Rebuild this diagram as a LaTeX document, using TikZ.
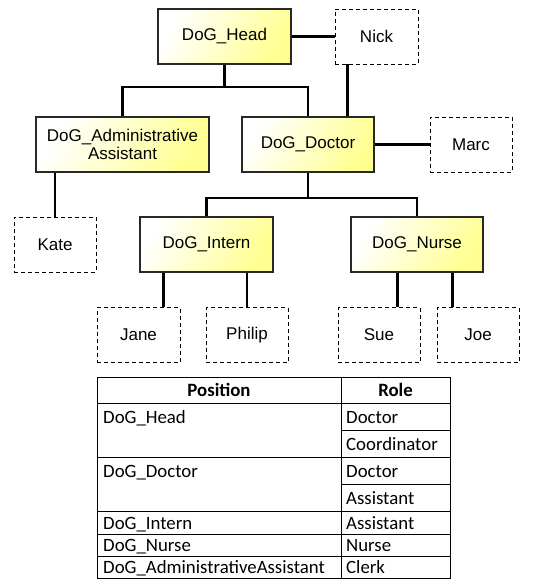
\documentclass[tikz,border=0pt]{standalone}
\usepackage{fontspec}
\setmainfont{Liberation Sans}
\newfontfamily\tabfont{Carlito}
\definecolor{ylw}{RGB}{255,255,145}
\definecolor{bord}{RGB}{40,40,40}
\begin{document}
\begin{tikzpicture}[x=1pt,y=-1pt,
  posbox/.style={draw=bord,line width=1.1pt,left color=white,right color=ylw,shading angle=60,minimum height=55pt,inner sep=0pt,align=center,font=\fontsize{17}{17.5}\selectfont},
  person/.style={draw=black,line width=0.9pt,dash pattern=on 4pt off 3pt,fill=white,minimum width=83pt,minimum height=55pt,inner sep=0pt,font=\fontsize{17}{17.5}\selectfont},
  link/.style={line width=2.6pt,black},
  tline/.style={line width=0.9pt,black},
  ttext/.style={inner sep=0pt,anchor=base west,font=\tabfont\fontsize{18.8}{20}\selectfont},
  thead/.style={inner sep=0pt,anchor=base,font=\tabfont\bfseries\fontsize{18.8}{20}\selectfont}]
\useasboundingbox (0,0) rectangle (542,585);
% boxes
\node[posbox,minimum width=133pt] (head) at (224.5,36.5) {DoG\_Head};
\node[person] (nick) at (376.5,36.5) {Nick};
\node[posbox,minimum width=173pt] (admin) at (122.5,144.5) {DoG\_Administrative\\Assistant};
\node[posbox,minimum width=132pt] (doctor) at (308,144.5) {DoG\_Doctor};
\node[person,minimum width=82pt] (marc) at (471,144.5) {Marc};
\node[person,minimum width=82pt] (kate) at (55,244.5) {Kate};
\node[posbox,minimum width=133pt] (intern) at (206.5,244.5) {DoG\_Intern};
\node[posbox,minimum width=132pt] (nurse) at (417,244.5) {DoG\_Nurse};
\node[person] (jane) at (138.5,335) {Jane};
\node[person,minimum width=82pt] (philip) at (247,335) {Philip};
\node[person,minimum width=82pt] (sue) at (379,335) {Sue};
\node[person,minimum width=82pt] (joe) at (478,335) {Joe};
% connectors
\coordinate (bus1) at (224.5,87);
\coordinate (bus2) at (308,198);
\draw[link] (head.east) -- (nick.west);
\draw[link] (head.south) -- (bus1);
\draw[link] (admin.north) |- (bus1) -| (doctor.north);
\draw[link] ([xshift=13pt]nick.south west) -- ([xshift=13pt]nick.south west |- doctor.north);
\draw[link] (doctor.east) -- (marc.west);
\draw[link] (doctor.south) -- (bus2);
\draw[link] (intern.north) |- (bus2) -| (nurse.north);
\draw[link] (kate.north) -- (kate.north |- admin.south);
\draw[link] ([xshift=-17pt]jane.north east) -- ([xshift=-17pt]jane.north east |- intern.south);
\draw[link] (philip.north) -- (philip.north |- intern.south);
\draw[link] ([xshift=-23pt]sue.north east) -- ([xshift=-23pt]sue.north east |- nurse.south);
\draw[link] ([xshift=16pt]joe.north west) -- ([xshift=16pt]joe.north west |- nurse.south);
% table
\draw[tline] (97,377) rectangle (450,578);
\draw[tline] (341,377) -- (341,578);
\foreach \yy in {403.5,457,511,534,556} \draw[tline] (97,\yy) -- (450,\yy);
\foreach \yy in {430,484} \draw[tline] (341,\yy) -- (450,\yy);
\node[thead] (hp) at (219,396.5) {Position};
\node[thead] (hr) at (395.5,396.5) {Role};
\node[ttext] (p1) at (103,423.5) {DoG\_Head};
\node[ttext] (p2) at (103,477.5) {DoG\_Doctor};
\node[ttext] (p3) at (103,529) {DoG\_Intern};
\node[ttext] (p4) at (103,551) {DoG\_Nurse};
\node[ttext] (p5) at (103,573) {DoG\_AdministrativeAssistant};
\node[ttext] (r1) at (346,423.5) {Doctor};
\node[ttext] (r2) at (346,450.5) {Coordinator};
\node[ttext] (r3) at (346,477.5) {Doctor};
\node[ttext] (r4) at (346,504.5) {Assistant};
\node[ttext] (r5) at (346,529) {Assistant};
\node[ttext] (r6) at (346,551) {Nurse};
\node[ttext] (r7) at (346,573) {Clerk};
\end{tikzpicture}
\end{document}
